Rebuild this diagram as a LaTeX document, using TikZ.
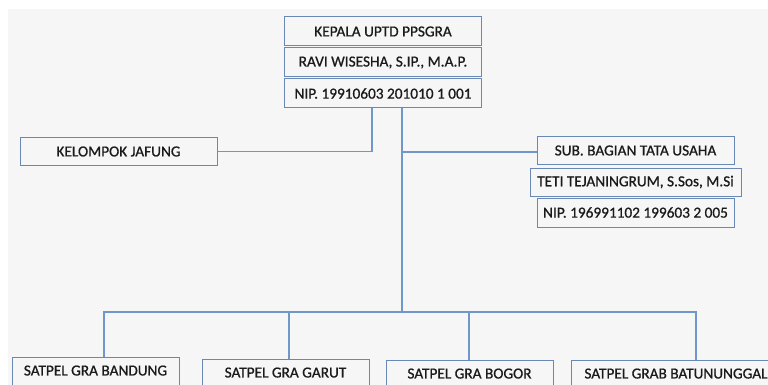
\documentclass[tikz,border=0pt]{standalone}
\usepackage{fontspec}
\setmainfont{Carlito}
\newfontfamily\boxfont{Carlito}[FakeBold=0.8]
\begin{document}
\begin{tikzpicture}[x=1pt,y=-1pt,
  box/.style={draw=boxc, line width=1pt, fill=bgc, inner sep=0pt, text=txtc, font=\boxfont\fontsize{15.3}{18}\selectfont},
  conn/.style={draw=linec, line width=1.5pt}]
\definecolor{bgc}{HTML}{F6F6F6}
\definecolor{boxc}{HTML}{6A88B4}
\definecolor{linec}{HTML}{7097CA}
\definecolor{txtc}{HTML}{1A1A1A}
\useasboundingbox (0,0) rectangle (768,385);
\fill[white] (0,0) rectangle (768,385);
\fill[bgc] (8,9) rectangle (768,385);
% top boxes
\node[box, minimum width=197pt, minimum height=29pt] (k1) at (383,31.5) {KEPALA UPTD PPSGRA};
\node[box, minimum width=197pt, minimum height=29pt] (k2) at (383,62.5) {RAVI WISESHA, S.IP., M.A.P.};
\node[box, minimum width=197pt, minimum height=29pt] (k3) at (383,93.5) {NIP. 19910603 201010 1 001};
% left
\node[box, minimum width=197pt, minimum height=28pt] (jf) at (118.5,151.5) {KELOMPOK JAFUNG};
% right
\node[box, minimum width=197pt, minimum height=27pt] (s1) at (635.5,150.5) {SUB. BAGIAN TATA USAHA};
\node[box, minimum width=211pt, minimum height=28pt] (s2) at (635.5,182) {TETI TEJANINGRUM, S.Sos, M.Si};
\node[box, minimum width=197pt, minimum height=29pt] (s3) at (635.5,212.5) {NIP. 196991102 199603 2 005};
% bottom
\node[box, minimum width=167pt, minimum height=34pt, anchor=north] (b1) at (95.5,357) {\raisebox{8pt}{SATPEL GRA BANDUNG}};
\node[box, minimum width=167pt, minimum height=34pt, anchor=north] (b2) at (285.5,359) {\raisebox{8pt}{SATPEL GRA GARUT}};
\node[box, minimum width=167pt, minimum height=34pt, anchor=north] (b3) at (469.5,360) {\raisebox{8pt}{SATPEL GRA BOGOR}};
\node[box, minimum width=210pt, minimum height=34pt, anchor=north] (b4) at (676,360) {\raisebox{8pt}{SATPEL GRAB BATUNUNGGAL}};
% connectors
\coordinate (busL) at (104,312);
\coordinate (busR) at (696,312);
\draw[conn] (k3.south -| 372,0) |- (jf.east);
\draw[conn] (k3.south -| 402,0) -- (402,312);
\draw[conn] (402,152) -- (s1.west |- 0,152);
\draw[conn] (b1.north -| busL) -- (busL) -- (busR) -- (b4.north -| busR);
\draw[conn] (289,312) -- (b2.north -| 289,0);
\draw[conn] (469,312) -- (b3.north -| 469,0);
\end{tikzpicture}
\end{document}
